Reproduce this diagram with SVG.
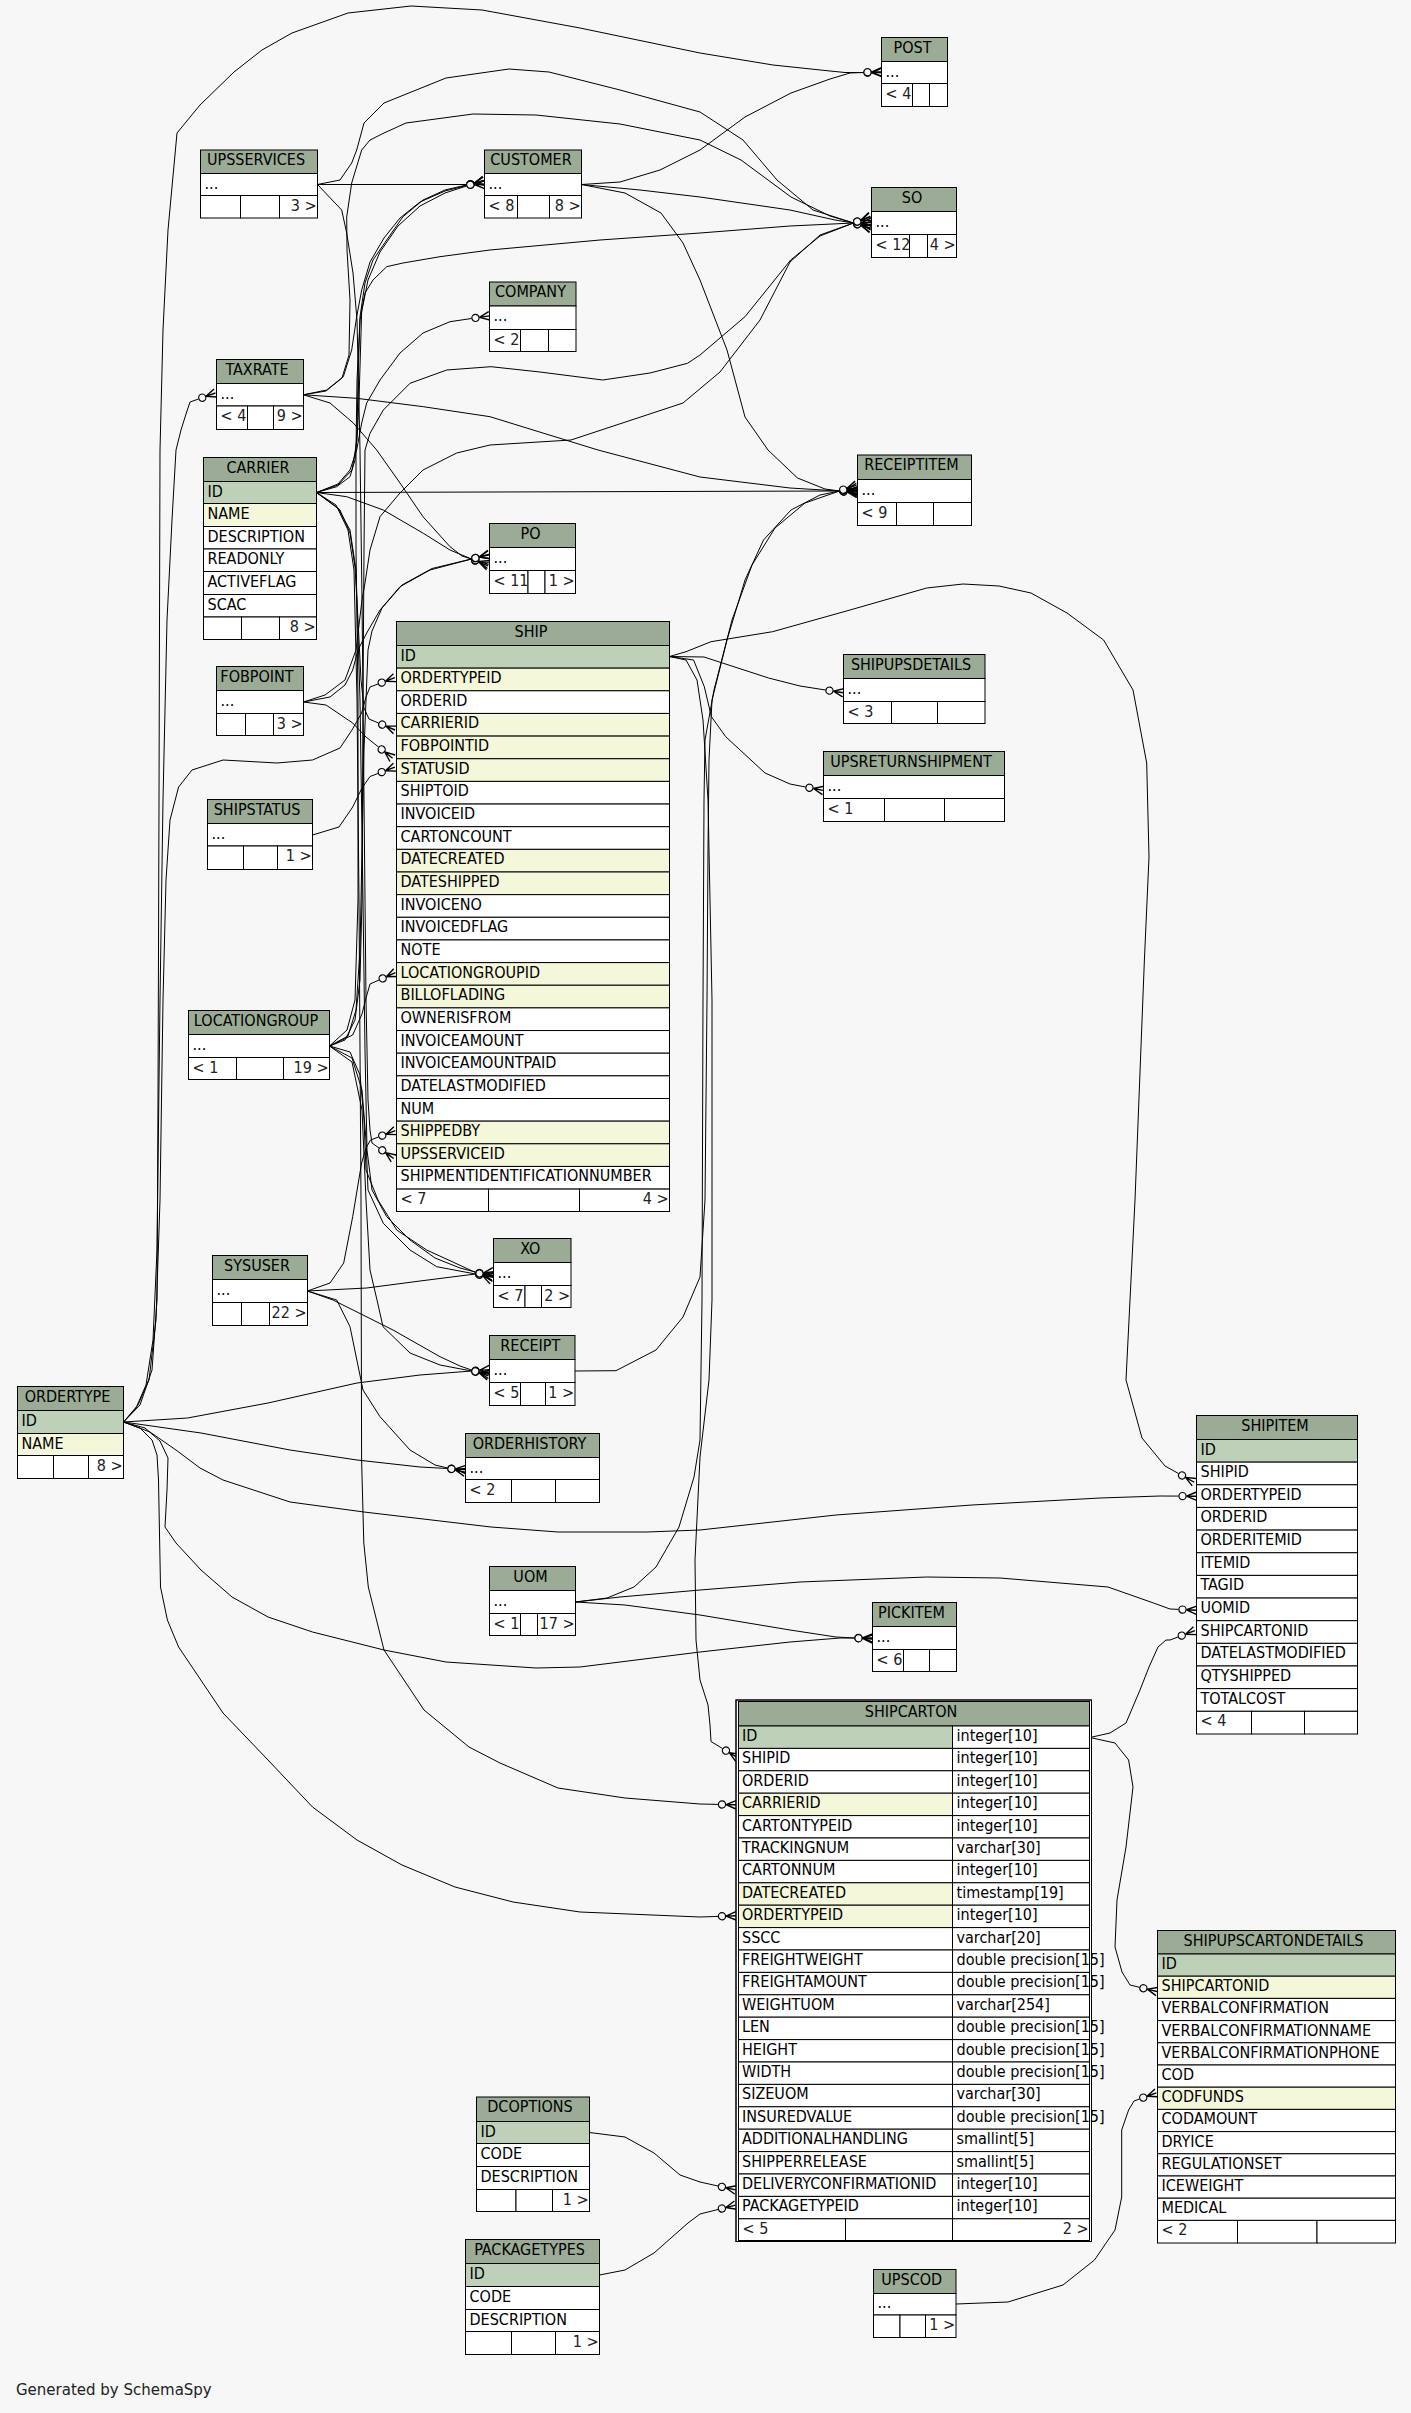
<svg xmlns="http://www.w3.org/2000/svg" width="1411" height="2413" viewBox="0 0 1411 2413">
<defs>
<style>
.bg{fill:#f7f7f7;stroke:none}
rect{stroke:#000;stroke-width:1}
.hd{fill:#9bab96}
.pk{fill:#bed1b8}
.fk{fill:#f4f7da}
.w{fill:#fff}
text{font-family:"DejaVu Sans Condensed","DejaVu Sans",sans-serif;font-size:16px;fill:#000}
.h{text-anchor:middle}
.r{text-anchor:end}
.f{fill:#222}
.e{fill:none;stroke:#000;stroke-width:1;stroke-linejoin:round;marker-end:url(#cf)}
.gen{font-family:"DejaVu Sans",sans-serif;font-size:15px;fill:#222}
</style>
<marker id="cf" markerUnits="userSpaceOnUse" markerWidth="20" markerHeight="12" refX="0" refY="6" orient="auto" overflow="visible">
<circle cx="4" cy="6" r="3.6" fill="#f7f7f7" stroke="#000" stroke-width="1.2"/>
<path d="M8,6 L18,1.8 M8,6 L18,6 M8,6 L18,10.2" stroke="#000" stroke-width="1.4" fill="none"/>
</marker>
</defs>
<rect class="bg" x="0" y="0" width="1411" height="2413"/>

<g id="edges">
<path class="e" d="M123.5,1422 L140,1405 L152,1370 L157,1300 L158,1100 L159,800 L160,450 L163,330 L168,230 L177,133 L200,105 L234,72 L262,50 L292,33 L348,13 L411,6 L482,10 L580,28 L700,53 L773,65 L830,71 L845,72.5 L863.5,72.5"/>
<path class="e" d="M123.5,1422 L136,1408 L146,1385 L153,1340 L157,1250 L160,1000 L163,800 L167,620 L172,520 L176,450 L181,430 L186,414 L190,402 L198.5,399"/>
<path class="e" d="M123.5,1422 L138,1405 L149,1380 L156,1320 L160,1200 L163,1000 L166,880 L170,820 L178.6,787 L192,770 L223,760 L277,763 L312.5,760 L340,748 L352,730 L361.6,713 L366,697 L370,687 L378,684"/>
<path class="e" d="M123.5,1422 L187.5,1418 L268,1403 L357,1383 L420,1375 L446,1373 L471.5,1371"/>
<path class="e" d="M123.5,1422 L201,1433 L290,1450 L357,1460 L420,1467 L447.5,1468.5"/>
<path class="e" d="M123.5,1422 L150,1432 L176,1450 L200,1468 L223,1480 L290,1502 L364,1512 L491,1527 L558,1532 L647,1532 L700,1530 L836,1515 L972,1505 L1100,1498 L1160,1496 L1178.5,1496.1"/>
<path class="e" d="M123.5,1422 L145,1428 L160,1441 L168,1458 L167,1490 L165,1527 L176,1543 L201,1570 L232,1597 L268,1617 L312.5,1632 L384,1650 L446,1662 L536,1668 L580,1667 L700,1652 L790,1642 L840,1638 L854.5,1638"/>
<path class="e" d="M123.5,1422 L140,1428 L152,1440 L157,1455 L158.5,1480 L160.5,1587 L167.4,1620 L178.6,1647 L223,1713 L268,1760 L312.5,1807 L357,1840 L402,1865 L455,1887 L513,1902 L580,1912 L700,1917 L718,1916.4"/>
<path class="e" d="M581.5,184.5 L620,182 L660,170 L700,150 L745,117 L791,93 L830,79 L850,73 L863.5,72.5"/>
<path class="e" d="M581.5,184.5 L640,190 L700,197 L790,210 L835,220 L853.5,223"/>
<path class="e" d="M581.5,184.5 L625,193 L661,213 L683,243 L700,280 L727,350 L745,417 L768,450 L797.5,478 L825,489 L839.5,491"/>
<path class="e" d="M317.5,184.5 L466.5,184.5"/>
<path class="e" d="M317.5,184.5 L340,180 L351.7,163 L356.7,150 L364,123 L384,103 L446,78 L509,69 L549,72 L620,90 L700,112 L743,140 L777,180 L813,210 L853.5,223"/>
<path class="e" d="M317.5,184.5 L341.7,210 L346.7,233 L353,273 L357,320 L360,450 L362,600 L364,800 L366,1000 L368,1100 L370,1130 L372,1143 L379,1148"/>
<path class="e" d="M316.5,492.5 L839.5,491"/>
<path class="e" d="M316.5,492.5 L346.7,496.7 L383.3,510 L423.3,533.3 L450,550 L471.5,559"/>
<path class="e" d="M316.5,492.5 L340,510 L350,533 L355,567 L358,620 L361,680 L364,708 L369,719 L378.5,723"/>
<path class="e" d="M316.5,492.5 L336.7,486.7 L350,476.7 L355,460 L357,433 L358,380 L360,316.7 L365,283 L373,260 L386.7,240 L403,216.7 L423,200 L445,190 L466.5,185"/>
<path class="e" d="M316.5,492.5 L338,485 L352,470 L357,440 L359,400 L361.7,310 L365,293 L373,280 L386.7,266.7 L403,263 L440,256.7 L490,250 L600,240 L700,233 L790,226 L853.5,223"/>
<path class="e" d="M316.5,492.5 L338,484 L350,470 L356.7,450 L361.7,423 L366.7,403 L380,380 L400,353 L423,333 L450,321.7 L471.5,318.5"/>
<path class="e" d="M316.5,492.5 L338,508 L350,530 L356,570 L360,700 L363,900 L365,1050 L367,1150 L372,1190 L386.7,1216.7 L410,1240 L435,1258 L460,1268 L475.5,1272"/>
<path class="e" d="M316.5,492.5 L336,505 L348,530 L354,570 L357,700 L359,900 L361,1200 L361.6,1460 L363.8,1543 L368.3,1587 L384,1650 L424,1710 L469,1747 L500,1763 L558,1788 L625,1798 L700,1804 L718,1804.4"/>
<path class="e" d="M303.5,394.8 L356.7,398.3 L423.3,406.7 L490,416.7 L598,450 L700,477 L790,488 L839.5,491"/>
<path class="e" d="M303.5,394.8 L330,403 L353.3,423 L376.7,450 L400,483 L423,516.7 L450,546.7 L462,556 L471.5,559"/>
<path class="e" d="M303.5,394.8 L326.7,390 L343.3,376.7 L351.7,350 L356.7,316.7 L361.7,290 L370,262 L384,238 L400,218 L420,202 L445,191 L466.5,185.5"/>
<path class="e" d="M303.5,394.8 L326,391 L342,378 L349,355 L350,300 L347,250 L346.7,217 L351.7,183 L361.7,150 L370,140 L384,133 L406,123 L473,114 L536,115 L620,124 L700,140 L741,160 L791,197 L830,216 L853.5,223"/>
<path class="e" d="M303.5,702 L326,705 L352.7,723 L366,737 L378.5,747"/>
<path class="e" d="M303.5,702 L330,697 L345,685 L352.7,670 L358,650 L366.7,633 L380,610 L400,586.7 L430,570 L471.5,559"/>
<path class="e" d="M303.5,702 L325,695 L345,680 L356,650 L362,600 L365,583 L370,550 L380,516.7 L400,493 L423,470 L456.7,453 L490,445 L571,440 L683,403 L720,372 L760,320 L790,262 L820,235 L853.5,223"/>
<path class="e" d="M329.5,1046 L345,1040 L355,1020 L360,980 L362,900 L363,700 L364,550 L365,450 L370,433.3 L383.3,410 L410,383.3 L446.7,370 L491,366.7 L540,372 L602.7,380 L650,373 L687.5,363.3 L700,355 L745,316.7 L790.7,260 L820,236 L853.5,223"/>
<path class="e" d="M329.5,1046 L352.7,1035 L362,1014 L366,998 L370,984 L379,980"/>
<path class="e" d="M329.5,1046 L348,1036 L356,1010 L360,950 L362,850 L364,750 L368,650 L372,631 L382,608 L402,585 L432,568.5 L471.5,559"/>
<path class="e" d="M329.5,1046 L350,1052 L360,1075 L364,1120 L366,1170 L378,1200 L396.7,1230 L426.7,1250 L455,1263 L475.5,1272.5"/>
<path class="e" d="M329.5,1046 L352,1058 L362,1090 L366,1140 L368,1190 L383.3,1223.3 L410,1250 L436.7,1266.7 L475.5,1274"/>
<path class="e" d="M329.5,1046 L352,1062 L362,1110 L366,1200 L370,1270 L377,1300 L383,1326.7 L410,1353 L440,1365 L471.5,1371"/>
<path class="e" d="M329.5,1046 L347,1030 L355,1000 L358,900 L358,700 L356,550 L356,450 L357,380 L360,320 L368,280 L380,252 L398,226 L420,206 L445,193 L466.5,186"/>
<path class="e" d="M307.5,1291 L330,1283 L343.7,1263 L352.7,1216.7 L361.6,1163 L366,1148 L370.5,1140 L378.5,1137"/>
<path class="e" d="M307.5,1291 L366.7,1288 L420,1281 L475.5,1274"/>
<path class="e" d="M307.5,1291 L333,1300 L393,1330 L440,1356.7 L460,1366 L471.5,1370"/>
<path class="e" d="M307.5,1291 L336.7,1300 L350,1326.7 L363,1390 L380,1416.7 L410,1450 L435,1465 L447.5,1468"/>
<path class="e" d="M312.5,835 L339,827 L352.7,807 L362,788 L370,776.5 L378,773.5"/>
<path class="e" d="M669.5,656.5 L704,657 L768.6,678 L800,686 L825.5,690"/>
<path class="e" d="M669.5,656.5 L693.6,660 L704.3,686.7 L711.4,716.7 L725.7,736.7 L765,773 L790,784 L805.5,787"/>
<path class="e" d="M669.5,656.5 L686,651.7 L711,641.7 L772.6,631.7 L850,610 L926.7,588 L963,584 L999,586 L1031,593 L1067,613 L1103.6,640 L1133,690 L1146.7,763 L1149,857 L1144.4,960 L1135,1200 L1126,1380 L1142,1438 L1165,1466 L1178.5,1473.5"/>
<path class="e" d="M669.5,656.5 L686,660 L697,680 L703,720 L708,800 L712,1000 L712,1300 L709,1380 L700,1457 L695,1560 L696,1640 L700,1680 L708,1705 L710,1725 L711,1741.5 L722.5,1748.5"/>
<path class="e" d="M575,1371 L616,1370.7 L656,1350 L683,1317 L700,1277 L705,1200 L707,1000 L708,850 L709,760 L712,700 L727,640 L745,580 L763.5,540 L791,510 L820,495 L839.5,491"/>
<path class="e" d="M575.5,1602 L607,1598 L634,1587 L656,1567 L679,1527 L694,1477 L700,1440 L702,1300 L703,1000 L704,800 L705,740 L714,690 L732,620 L752,565 L775,528 L805,503 L839.5,491"/>
<path class="e" d="M575.5,1602 L620,1597 L700,1590 L800,1582 L926.7,1577 L1000,1578 L1108,1587 L1153.5,1603 L1170,1609 L1178.5,1609.4"/>
<path class="e" d="M575.5,1602 L625,1605 L700,1615 L790,1630 L836,1637 L854.5,1638"/>
<path class="e" d="M1090,1737.5 L1110,1733 L1126,1723 L1140,1690 L1149,1667 L1158,1647 L1166,1640 L1170,1640 L1178,1637"/>
<path class="e" d="M1090,1737.5 L1115,1743 L1128.6,1760 L1133,1787 L1126,1847 L1117,1900 L1115,1947 L1122,1972 L1130,1985 L1139.5,1987.3"/>
<path class="e" d="M956,2304 L1008,2302 L1063,2285 L1094.5,2260 L1115,2230 L1121.7,2197 L1121.7,2130 L1128.6,2110 L1134,2101 L1139.5,2099"/>
<path class="e" d="M589.5,2132.5 L625,2137 L654,2153 L680,2175 L700,2182 L718,2186"/>
<path class="e" d="M599.5,2275 L625,2270 L654,2253 L688,2223 L700,2214 L718,2209.5"/>
</g>

<g id="UPSSERVICES">
<rect class="hd" x="200.5" y="150" width="117" height="23.5"/>
<rect class="w" x="200.5" y="173.5" width="117" height="22"/>
<rect class="w" x="200.5" y="195.5" width="40" height="22.5"/>
<rect class="w" x="240.5" y="195.5" width="39" height="22.5"/>
<rect class="w" x="279.5" y="195.5" width="38" height="22.5"/>
<text class="h" x="256" y="165">UPSSERVICES</text>
<text x="204.5" y="188.5">...</text>
<text class="r f" x="316.5" y="210.5">3 &gt;</text>
</g>

<g id="CUSTOMER">
<rect class="hd" x="484.5" y="150" width="97" height="23.5"/>
<rect class="w" x="484.5" y="173.5" width="97" height="22"/>
<rect class="w" x="484.5" y="195.5" width="33" height="22.5"/>
<rect class="w" x="517.5" y="195.5" width="32" height="22.5"/>
<rect class="w" x="549.5" y="195.5" width="32" height="22.5"/>
<text class="h" x="531" y="165">CUSTOMER</text>
<text x="488.5" y="188.5">...</text>
<text class="f" x="488.5" y="210.5">&lt; 8</text>
<text class="r f" x="580.5" y="210.5">8 &gt;</text>
</g>

<g id="POST">
<rect class="hd" x="881.5" y="37.5" width="66" height="24"/>
<rect class="w" x="881.5" y="61.5" width="66" height="22"/>
<rect class="w" x="881.5" y="83.5" width="31" height="23"/>
<rect class="w" x="912.5" y="83.5" width="17" height="23"/>
<rect class="w" x="929.5" y="83.5" width="18" height="23"/>
<text class="h" x="912.5" y="52.5">POST</text>
<text x="885.5" y="76.5">...</text>
<text class="f" x="885.5" y="98.5">&lt; 4</text>
</g>

<g id="SO">
<rect class="hd" x="871.5" y="187.5" width="85" height="24"/>
<rect class="w" x="871.5" y="211.5" width="85" height="23"/>
<rect class="w" x="871.5" y="234.5" width="38" height="23"/>
<rect class="w" x="909.5" y="234.5" width="18" height="23"/>
<rect class="w" x="927.5" y="234.5" width="29" height="23"/>
<text class="h" x="912" y="202.5">SO</text>
<text x="875.5" y="226.5">...</text>
<text class="f" x="875.5" y="249.5">&lt; 12</text>
<text class="r f" x="955.5" y="249.5">4 &gt;</text>
</g>

<g id="COMPANY">
<rect class="hd" x="489.5" y="282" width="86.5" height="24"/>
<rect class="w" x="489.5" y="306" width="86.5" height="23.5"/>
<rect class="w" x="489.5" y="329.5" width="31" height="22"/>
<rect class="w" x="520.5" y="329.5" width="28" height="22"/>
<rect class="w" x="548.5" y="329.5" width="27.5" height="22"/>
<text class="h" x="530.5" y="297">COMPANY</text>
<text x="493.5" y="321">...</text>
<text class="f" x="493.5" y="344.5">&lt; 2</text>
</g>

<g id="TAXRATE">
<rect class="hd" x="216.5" y="359.5" width="87" height="24"/>
<rect class="w" x="216.5" y="383.5" width="87" height="22.5"/>
<rect class="w" x="216.5" y="406" width="31" height="23.5"/>
<rect class="w" x="247.5" y="406" width="26" height="23.5"/>
<rect class="w" x="273.5" y="406" width="30" height="23.5"/>
<text class="h" x="257" y="374.5">TAXRATE</text>
<text x="220.5" y="398.5">...</text>
<text class="f" x="220.5" y="421">&lt; 4</text>
<text class="r f" x="302.5" y="421">9 &gt;</text>
</g>

<g id="CARRIER">
<rect class="hd" x="203.5" y="457.5" width="113" height="24"/>
<rect class="pk" x="203.5" y="481.5" width="113" height="22"/>
<rect class="fk" x="203.5" y="503.5" width="113" height="23"/>
<rect class="w" x="203.5" y="526.5" width="113" height="22.5"/>
<rect class="w" x="203.5" y="549" width="113" height="22.5"/>
<rect class="w" x="203.5" y="571.5" width="113" height="23"/>
<rect class="w" x="203.5" y="594.5" width="113" height="22.5"/>
<rect class="w" x="203.5" y="617" width="38" height="22.5"/>
<rect class="w" x="241.5" y="617" width="38" height="22.5"/>
<rect class="w" x="279.5" y="617" width="37" height="22.5"/>
<text class="h" x="258" y="472.5">CARRIER</text>
<text x="207.5" y="496.5">ID</text>
<text x="207.5" y="518.5">NAME</text>
<text x="207.5" y="541.5">DESCRIPTION</text>
<text x="207.5" y="564">READONLY</text>
<text x="207.5" y="586.5">ACTIVEFLAG</text>
<text x="207.5" y="609.5">SCAC</text>
<text class="r f" x="315.5" y="632">8 &gt;</text>
</g>

<g id="RECEIPTITEM">
<rect class="hd" x="857.5" y="455" width="114" height="24.5"/>
<rect class="w" x="857.5" y="479.5" width="114" height="23"/>
<rect class="w" x="857.5" y="502.5" width="39" height="23"/>
<rect class="w" x="896.5" y="502.5" width="37" height="23"/>
<rect class="w" x="933.5" y="502.5" width="38" height="23"/>
<text class="h" x="911.5" y="470">RECEIPTITEM</text>
<text x="861.5" y="494.5">...</text>
<text class="f" x="861.5" y="517.5">&lt; 9</text>
</g>

<g id="PO">
<rect class="hd" x="489.5" y="523.5" width="86" height="24"/>
<rect class="w" x="489.5" y="547.5" width="86" height="23"/>
<rect class="w" x="489.5" y="570.5" width="38.5" height="23"/>
<rect class="w" x="528" y="570.5" width="17" height="23"/>
<rect class="w" x="545" y="570.5" width="30.5" height="23"/>
<text class="h" x="530.5" y="538.5">PO</text>
<text x="493.5" y="562.5">...</text>
<text class="f" x="493.5" y="585.5">&lt; 11</text>
<text class="r f" x="574.5" y="585.5">1 &gt;</text>
</g>

<g id="SHIP">
<rect class="hd" x="396.5" y="621.5" width="273" height="24"/>
<rect class="pk" x="396.5" y="645.5" width="273" height="22.65"/>
<rect class="fk" x="396.5" y="668.15" width="273" height="22.65"/>
<rect class="w" x="396.5" y="690.8" width="273" height="22.65"/>
<rect class="fk" x="396.5" y="713.45" width="273" height="22.65"/>
<rect class="fk" x="396.5" y="736.1" width="273" height="22.65"/>
<rect class="fk" x="396.5" y="758.75" width="273" height="22.65"/>
<rect class="w" x="396.5" y="781.4" width="273" height="22.65"/>
<rect class="w" x="396.5" y="804.05" width="273" height="22.65"/>
<rect class="w" x="396.5" y="826.7" width="273" height="22.65"/>
<rect class="fk" x="396.5" y="849.35" width="273" height="22.65"/>
<rect class="fk" x="396.5" y="872" width="273" height="22.65"/>
<rect class="w" x="396.5" y="894.65" width="273" height="22.65"/>
<rect class="w" x="396.5" y="917.3" width="273" height="22.65"/>
<rect class="w" x="396.5" y="939.95" width="273" height="22.65"/>
<rect class="fk" x="396.5" y="962.6" width="273" height="22.65"/>
<rect class="fk" x="396.5" y="985.25" width="273" height="22.65"/>
<rect class="w" x="396.5" y="1007.9" width="273" height="22.65"/>
<rect class="w" x="396.5" y="1030.55" width="273" height="22.65"/>
<rect class="w" x="396.5" y="1053.2" width="273" height="22.65"/>
<rect class="w" x="396.5" y="1075.85" width="273" height="22.65"/>
<rect class="w" x="396.5" y="1098.5" width="273" height="22.65"/>
<rect class="fk" x="396.5" y="1121.15" width="273" height="22.65"/>
<rect class="fk" x="396.5" y="1143.8" width="273" height="22.65"/>
<rect class="w" x="396.5" y="1166.45" width="273" height="22.65"/>
<rect class="w" x="396.5" y="1189.1" width="92" height="22.4"/>
<rect class="w" x="488.5" y="1189.1" width="91" height="22.4"/>
<rect class="w" x="579.5" y="1189.1" width="90" height="22.4"/>
<text class="h" x="531" y="636.5">SHIP</text>
<text x="400.5" y="660.5">ID</text>
<text x="400.5" y="683.15">ORDERTYPEID</text>
<text x="400.5" y="705.8">ORDERID</text>
<text x="400.5" y="728.45">CARRIERID</text>
<text x="400.5" y="751.1">FOBPOINTID</text>
<text x="400.5" y="773.75">STATUSID</text>
<text x="400.5" y="796.4">SHIPTOID</text>
<text x="400.5" y="819.05">INVOICEID</text>
<text x="400.5" y="841.7">CARTONCOUNT</text>
<text x="400.5" y="864.35">DATECREATED</text>
<text x="400.5" y="887">DATESHIPPED</text>
<text x="400.5" y="909.65">INVOICENO</text>
<text x="400.5" y="932.3">INVOICEDFLAG</text>
<text x="400.5" y="954.95">NOTE</text>
<text x="400.5" y="977.6">LOCATIONGROUPID</text>
<text x="400.5" y="1000.25">BILLOFLADING</text>
<text x="400.5" y="1022.9">OWNERISFROM</text>
<text x="400.5" y="1045.55">INVOICEAMOUNT</text>
<text x="400.5" y="1068.2">INVOICEAMOUNTPAID</text>
<text x="400.5" y="1090.85">DATELASTMODIFIED</text>
<text x="400.5" y="1113.5">NUM</text>
<text x="400.5" y="1136.15">SHIPPEDBY</text>
<text x="400.5" y="1158.8">UPSSERVICEID</text>
<text x="400.5" y="1181.45">SHIPMENTIDENTIFICATIONNUMBER</text>
<text class="f" x="400.5" y="1204.1">&lt; 7</text>
<text class="r f" x="668.5" y="1204.1">4 &gt;</text>
</g>

<g id="SHIPUPSDETAILS">
<rect class="hd" x="843.5" y="654.5" width="141.5" height="24"/>
<rect class="w" x="843.5" y="678.5" width="141.5" height="23"/>
<rect class="w" x="843.5" y="701.5" width="48" height="22"/>
<rect class="w" x="891.5" y="701.5" width="46" height="22"/>
<rect class="w" x="937.5" y="701.5" width="47.5" height="22"/>
<text class="h" x="911" y="669.5">SHIPUPSDETAILS</text>
<text x="847.5" y="693.5">...</text>
<text class="f" x="847.5" y="716.5">&lt; 3</text>
</g>

<g id="FOBPOINT">
<rect class="hd" x="216.5" y="666.5" width="87" height="24"/>
<rect class="w" x="216.5" y="690.5" width="87" height="23"/>
<rect class="w" x="216.5" y="713.5" width="29" height="22"/>
<rect class="w" x="245.5" y="713.5" width="28" height="22"/>
<rect class="w" x="273.5" y="713.5" width="30" height="22"/>
<text class="h" x="257" y="681.5">FOBPOINT</text>
<text x="220.5" y="705.5">...</text>
<text class="r f" x="302.5" y="728.5">3 &gt;</text>
</g>

<g id="UPSRETURNSHIPMENT">
<rect class="hd" x="823.5" y="751.5" width="181" height="24"/>
<rect class="w" x="823.5" y="775.5" width="181" height="23"/>
<rect class="w" x="823.5" y="798.5" width="61" height="23"/>
<rect class="w" x="884.5" y="798.5" width="60" height="23"/>
<rect class="w" x="944.5" y="798.5" width="60" height="23"/>
<text class="h" x="911" y="766.5">UPSRETURNSHIPMENT</text>
<text x="827.5" y="790.5">...</text>
<text class="f" x="827.5" y="813.5">&lt; 1</text>
</g>

<g id="SHIPSTATUS">
<rect class="hd" x="207.5" y="799.5" width="105" height="24"/>
<rect class="w" x="207.5" y="823.5" width="105" height="22.5"/>
<rect class="w" x="207.5" y="846" width="36" height="23.5"/>
<rect class="w" x="243.5" y="846" width="34" height="23.5"/>
<rect class="w" x="277.5" y="846" width="35" height="23.5"/>
<text class="h" x="257" y="814.5">SHIPSTATUS</text>
<text x="211.5" y="838.5">...</text>
<text class="r f" x="311.5" y="861">1 &gt;</text>
</g>

<g id="LOCATIONGROUP">
<rect class="hd" x="188.5" y="1010.5" width="141" height="24"/>
<rect class="w" x="188.5" y="1034.5" width="141" height="23"/>
<rect class="w" x="188.5" y="1057.5" width="48" height="22"/>
<rect class="w" x="236.5" y="1057.5" width="47" height="22"/>
<rect class="w" x="283.5" y="1057.5" width="46" height="22"/>
<text class="h" x="256" y="1025.5">LOCATIONGROUP</text>
<text x="192.5" y="1049.5">...</text>
<text class="f" x="192.5" y="1072.5">&lt; 1</text>
<text class="r f" x="328.5" y="1072.5">19 &gt;</text>
</g>

<g id="XO">
<rect class="hd" x="493.5" y="1238.5" width="77.5" height="24"/>
<rect class="w" x="493.5" y="1262.5" width="77.5" height="23"/>
<rect class="w" x="493.5" y="1285.5" width="31.5" height="22"/>
<rect class="w" x="525" y="1285.5" width="16.5" height="22"/>
<rect class="w" x="541.5" y="1285.5" width="29.5" height="22"/>
<text class="h" x="530.3" y="1253.5">XO</text>
<text x="497.5" y="1277.5">...</text>
<text class="f" x="497.5" y="1300.5">&lt; 7</text>
<text class="r f" x="570" y="1300.5">2 &gt;</text>
</g>

<g id="SYSUSER">
<rect class="hd" x="212.5" y="1255.5" width="95" height="24"/>
<rect class="w" x="212.5" y="1279.5" width="95" height="23"/>
<rect class="w" x="212.5" y="1302.5" width="29" height="23"/>
<rect class="w" x="241.5" y="1302.5" width="28" height="23"/>
<rect class="w" x="269.5" y="1302.5" width="38" height="23"/>
<text class="h" x="257" y="1270.5">SYSUSER</text>
<text x="216.5" y="1294.5">...</text>
<text class="r f" x="306.5" y="1317.5">22 &gt;</text>
</g>

<g id="RECEIPT">
<rect class="hd" x="489.5" y="1335.5" width="85.5" height="24"/>
<rect class="w" x="489.5" y="1359.5" width="85.5" height="23"/>
<rect class="w" x="489.5" y="1382.5" width="31" height="23"/>
<rect class="w" x="520.5" y="1382.5" width="25" height="23"/>
<rect class="w" x="545.5" y="1382.5" width="29.5" height="23"/>
<text class="h" x="530.3" y="1350.5">RECEIPT</text>
<text x="493.5" y="1374.5">...</text>
<text class="f" x="493.5" y="1397.5">&lt; 5</text>
<text class="r f" x="574" y="1397.5">1 &gt;</text>
</g>

<g id="ORDERTYPE">
<rect class="hd" x="17.5" y="1386.5" width="106" height="24"/>
<rect class="pk" x="17.5" y="1410.5" width="106" height="23"/>
<rect class="fk" x="17.5" y="1433.5" width="106" height="22"/>
<rect class="w" x="17.5" y="1455.5" width="36" height="23"/>
<rect class="w" x="53.5" y="1455.5" width="35" height="23"/>
<rect class="w" x="88.5" y="1455.5" width="35" height="23"/>
<text class="h" x="67.5" y="1401.5">ORDERTYPE</text>
<text x="21.5" y="1425.5">ID</text>
<text x="21.5" y="1448.5">NAME</text>
<text class="r f" x="122.5" y="1470.5">8 &gt;</text>
</g>

<g id="ORDERHISTORY">
<rect class="hd" x="465.5" y="1433.5" width="134" height="24"/>
<rect class="w" x="465.5" y="1457.5" width="134" height="22"/>
<rect class="w" x="465.5" y="1479.5" width="46" height="23"/>
<rect class="w" x="511.5" y="1479.5" width="44" height="23"/>
<rect class="w" x="555.5" y="1479.5" width="44" height="23"/>
<text class="h" x="529.5" y="1448.5">ORDERHISTORY</text>
<text x="469.5" y="1472.5">...</text>
<text class="f" x="469.5" y="1494.5">&lt; 2</text>
</g>

<g id="UOM">
<rect class="hd" x="489.5" y="1566.5" width="86" height="24"/>
<rect class="w" x="489.5" y="1590.5" width="86" height="23"/>
<rect class="w" x="489.5" y="1613.5" width="31" height="22"/>
<rect class="w" x="520.5" y="1613.5" width="17" height="22"/>
<rect class="w" x="537.5" y="1613.5" width="38" height="22"/>
<text class="h" x="530.5" y="1581.5">UOM</text>
<text x="493.5" y="1605.5">...</text>
<text class="f" x="493.5" y="1628.5">&lt; 1</text>
<text class="r f" x="574.5" y="1628.5">17 &gt;</text>
</g>

<g id="PICKITEM">
<rect class="hd" x="872.5" y="1602.5" width="84" height="24"/>
<rect class="w" x="872.5" y="1626.5" width="84" height="23"/>
<rect class="w" x="872.5" y="1649.5" width="31" height="22"/>
<rect class="w" x="903.5" y="1649.5" width="26" height="22"/>
<rect class="w" x="929.5" y="1649.5" width="27" height="22"/>
<text class="h" x="911.5" y="1617.5">PICKITEM</text>
<text x="876.5" y="1641.5">...</text>
<text class="f" x="876.5" y="1664.5">&lt; 6</text>
</g>

<g id="SHIPITEM">
<rect class="hd" x="1196.5" y="1415.5" width="161" height="24"/>
<rect class="pk" x="1196.5" y="1439.5" width="161" height="22.65"/>
<rect class="w" x="1196.5" y="1462.15" width="161" height="22.65"/>
<rect class="w" x="1196.5" y="1484.8" width="161" height="22.65"/>
<rect class="w" x="1196.5" y="1507.45" width="161" height="22.65"/>
<rect class="w" x="1196.5" y="1530.1" width="161" height="22.65"/>
<rect class="w" x="1196.5" y="1552.75" width="161" height="22.65"/>
<rect class="w" x="1196.5" y="1575.4" width="161" height="22.65"/>
<rect class="w" x="1196.5" y="1598.05" width="161" height="22.65"/>
<rect class="w" x="1196.5" y="1620.7" width="161" height="22.65"/>
<rect class="w" x="1196.5" y="1643.35" width="161" height="22.65"/>
<rect class="w" x="1196.5" y="1666" width="161" height="22.65"/>
<rect class="w" x="1196.5" y="1688.65" width="161" height="22.65"/>
<rect class="w" x="1196.5" y="1711.3" width="55" height="22.7"/>
<rect class="w" x="1251.5" y="1711.3" width="53" height="22.7"/>
<rect class="w" x="1304.5" y="1711.3" width="53" height="22.7"/>
<text class="h" x="1275" y="1430.5">SHIPITEM</text>
<text x="1200.5" y="1454.5">ID</text>
<text x="1200.5" y="1477.15">SHIPID</text>
<text x="1200.5" y="1499.8">ORDERTYPEID</text>
<text x="1200.5" y="1522.45">ORDERID</text>
<text x="1200.5" y="1545.1">ORDERITEMID</text>
<text x="1200.5" y="1567.75">ITEMID</text>
<text x="1200.5" y="1590.4">TAGID</text>
<text x="1200.5" y="1613.05">UOMID</text>
<text x="1200.5" y="1635.7">SHIPCARTONID</text>
<text x="1200.5" y="1658.35">DATELASTMODIFIED</text>
<text x="1200.5" y="1681">QTYSHIPPED</text>
<text x="1200.5" y="1703.65">TOTALCOST</text>
<text class="f" x="1200.5" y="1726.3">&lt; 4</text>
</g>

<g id="SHIPCARTON">
<rect class="w" x="736" y="1700" width="355.5" height="541.5" stroke-width="2"/>
<rect class="hd" x="738.5" y="1701.5" width="351" height="24.5"/>
<rect class="pk" x="738.5" y="1726" width="214" height="22.4"/>
<rect class="w" x="952.5" y="1726" width="137" height="22.4"/>
<rect class="w" x="738.5" y="1748.4" width="214" height="22.4"/>
<rect class="w" x="952.5" y="1748.4" width="137" height="22.4"/>
<rect class="w" x="738.5" y="1770.8" width="214" height="22.4"/>
<rect class="w" x="952.5" y="1770.8" width="137" height="22.4"/>
<rect class="fk" x="738.5" y="1793.2" width="214" height="22.4"/>
<rect class="w" x="952.5" y="1793.2" width="137" height="22.4"/>
<rect class="w" x="738.5" y="1815.6" width="214" height="22.4"/>
<rect class="w" x="952.5" y="1815.6" width="137" height="22.4"/>
<rect class="w" x="738.5" y="1838" width="214" height="22.4"/>
<rect class="w" x="952.5" y="1838" width="137" height="22.4"/>
<rect class="w" x="738.5" y="1860.4" width="214" height="22.4"/>
<rect class="w" x="952.5" y="1860.4" width="137" height="22.4"/>
<rect class="fk" x="738.5" y="1882.8" width="214" height="22.4"/>
<rect class="w" x="952.5" y="1882.8" width="137" height="22.4"/>
<rect class="fk" x="738.5" y="1905.2" width="214" height="22.4"/>
<rect class="w" x="952.5" y="1905.2" width="137" height="22.4"/>
<rect class="w" x="738.5" y="1927.6" width="214" height="22.4"/>
<rect class="w" x="952.5" y="1927.6" width="137" height="22.4"/>
<rect class="w" x="738.5" y="1950" width="214" height="22.4"/>
<rect class="w" x="952.5" y="1950" width="137" height="22.4"/>
<rect class="w" x="738.5" y="1972.4" width="214" height="22.4"/>
<rect class="w" x="952.5" y="1972.4" width="137" height="22.4"/>
<rect class="w" x="738.5" y="1994.8" width="214" height="22.4"/>
<rect class="w" x="952.5" y="1994.8" width="137" height="22.4"/>
<rect class="w" x="738.5" y="2017.2" width="214" height="22.4"/>
<rect class="w" x="952.5" y="2017.2" width="137" height="22.4"/>
<rect class="w" x="738.5" y="2039.6" width="214" height="22.4"/>
<rect class="w" x="952.5" y="2039.6" width="137" height="22.4"/>
<rect class="w" x="738.5" y="2062" width="214" height="22.4"/>
<rect class="w" x="952.5" y="2062" width="137" height="22.4"/>
<rect class="w" x="738.5" y="2084.4" width="214" height="22.4"/>
<rect class="w" x="952.5" y="2084.4" width="137" height="22.4"/>
<rect class="w" x="738.5" y="2106.8" width="214" height="22.4"/>
<rect class="w" x="952.5" y="2106.8" width="137" height="22.4"/>
<rect class="w" x="738.5" y="2129.2" width="214" height="22.4"/>
<rect class="w" x="952.5" y="2129.2" width="137" height="22.4"/>
<rect class="w" x="738.5" y="2151.6" width="214" height="22.4"/>
<rect class="w" x="952.5" y="2151.6" width="137" height="22.4"/>
<rect class="w" x="738.5" y="2174" width="214" height="22.4"/>
<rect class="w" x="952.5" y="2174" width="137" height="22.4"/>
<rect class="w" x="738.5" y="2196.4" width="214" height="22.4"/>
<rect class="w" x="952.5" y="2196.4" width="137" height="22.4"/>
<rect class="w" x="738.5" y="2218.8" width="107" height="21.7"/>
<rect class="w" x="845.5" y="2218.8" width="107" height="21.7"/>
<rect class="w" x="952.5" y="2218.8" width="137" height="21.7"/>
<text class="h" x="911" y="1716.5">SHIPCARTON</text>
<text x="742" y="1741">ID</text><text x="956.5" y="1741">integer[10]</text>
<text x="742" y="1763.4">SHIPID</text><text x="956.5" y="1763.4">integer[10]</text>
<text x="742" y="1785.8">ORDERID</text><text x="956.5" y="1785.8">integer[10]</text>
<text x="742" y="1808.2">CARRIERID</text><text x="956.5" y="1808.2">integer[10]</text>
<text x="742" y="1830.6">CARTONTYPEID</text><text x="956.5" y="1830.6">integer[10]</text>
<text x="742" y="1853">TRACKINGNUM</text><text x="956.5" y="1853">varchar[30]</text>
<text x="742" y="1875.4">CARTONNUM</text><text x="956.5" y="1875.4">integer[10]</text>
<text x="742" y="1897.8">DATECREATED</text><text x="956.5" y="1897.8">timestamp[19]</text>
<text x="742" y="1920.2">ORDERTYPEID</text><text x="956.5" y="1920.2">integer[10]</text>
<text x="742" y="1942.6">SSCC</text><text x="956.5" y="1942.6">varchar[20]</text>
<text x="742" y="1965">FREIGHTWEIGHT</text><text x="956.5" y="1965">double precision[15]</text>
<text x="742" y="1987.4">FREIGHTAMOUNT</text><text x="956.5" y="1987.4">double precision[15]</text>
<text x="742" y="2009.8">WEIGHTUOM</text><text x="956.5" y="2009.8">varchar[254]</text>
<text x="742" y="2032.2">LEN</text><text x="956.5" y="2032.2">double precision[15]</text>
<text x="742" y="2054.6">HEIGHT</text><text x="956.5" y="2054.6">double precision[15]</text>
<text x="742" y="2077">WIDTH</text><text x="956.5" y="2077">double precision[15]</text>
<text x="742" y="2099.4">SIZEUOM</text><text x="956.5" y="2099.4">varchar[30]</text>
<text x="742" y="2121.8">INSUREDVALUE</text><text x="956.5" y="2121.8">double precision[15]</text>
<text x="742" y="2144.2">ADDITIONALHANDLING</text><text x="956.5" y="2144.2">smallint[5]</text>
<text x="742" y="2166.6">SHIPPERRELEASE</text><text x="956.5" y="2166.6">smallint[5]</text>
<text x="742" y="2189">DELIVERYCONFIRMATIONID</text><text x="956.5" y="2189">integer[10]</text>
<text x="742" y="2211.4">PACKAGETYPEID</text><text x="956.5" y="2211.4">integer[10]</text>
<text class="f" x="742.5" y="2233.8">&lt; 5</text>
<text class="r f" x="1088.5" y="2233.8">2 &gt;</text>
<rect x="736" y="1700" width="355.5" height="541.5" fill="none" stroke-width="2"/>
<path d="M1089.5,1726 V2218.8" stroke="#000" stroke-width="1"/>
</g>

<g id="SHIPUPSCARTONDETAILS">
<rect class="hd" x="1157.5" y="1930.5" width="238" height="23.5"/>
<rect class="pk" x="1157.5" y="1954" width="238" height="22.2"/>
<rect class="fk" x="1157.5" y="1976.2" width="238" height="22.2"/>
<rect class="w" x="1157.5" y="1998.4" width="238" height="22.2"/>
<rect class="w" x="1157.5" y="2020.6" width="238" height="22.2"/>
<rect class="w" x="1157.5" y="2042.8" width="238" height="22.2"/>
<rect class="w" x="1157.5" y="2065" width="238" height="22.2"/>
<rect class="fk" x="1157.5" y="2087.2" width="238" height="22.2"/>
<rect class="w" x="1157.5" y="2109.4" width="238" height="22.2"/>
<rect class="w" x="1157.5" y="2131.6" width="238" height="22.2"/>
<rect class="w" x="1157.5" y="2153.8" width="238" height="22.2"/>
<rect class="w" x="1157.5" y="2176" width="238" height="22.2"/>
<rect class="w" x="1157.5" y="2198.2" width="238" height="22.2"/>
<rect class="w" x="1157.5" y="2220.4" width="80" height="22.6"/>
<rect class="w" x="1237.5" y="2220.4" width="79.5" height="22.6"/>
<rect class="w" x="1317" y="2220.4" width="78.5" height="22.6"/>
<text class="h" x="1273.5" y="1945.5">SHIPUPSCARTONDETAILS</text>
<text x="1161.5" y="1969">ID</text>
<text x="1161.5" y="1991.2">SHIPCARTONID</text>
<text x="1161.5" y="2013.4">VERBALCONFIRMATION</text>
<text x="1161.5" y="2035.6">VERBALCONFIRMATIONNAME</text>
<text x="1161.5" y="2057.8">VERBALCONFIRMATIONPHONE</text>
<text x="1161.5" y="2080">COD</text>
<text x="1161.5" y="2102.2">CODFUNDS</text>
<text x="1161.5" y="2124.4">CODAMOUNT</text>
<text x="1161.5" y="2146.6">DRYICE</text>
<text x="1161.5" y="2168.8">REGULATIONSET</text>
<text x="1161.5" y="2191">ICEWEIGHT</text>
<text x="1161.5" y="2213.2">MEDICAL</text>
<text class="f" x="1161.5" y="2235.4">&lt; 2</text>
</g>

<g id="UPSCOD">
<rect class="hd" x="873.5" y="2269.5" width="82.5" height="24"/>
<rect class="w" x="873.5" y="2293.5" width="82.5" height="21.5"/>
<rect class="w" x="873.5" y="2315" width="26.5" height="22.5"/>
<rect class="w" x="900" y="2315" width="25.5" height="22.5"/>
<rect class="w" x="925.5" y="2315" width="30.5" height="22.5"/>
<text class="h" x="911.7" y="2284.5">UPSCOD</text>
<text x="877.5" y="2307.5">...</text>
<text class="r f" x="955" y="2330">1 &gt;</text>
</g>

<g id="DCOPTIONS">
<rect class="hd" x="476.5" y="2097" width="113" height="24.5"/>
<rect class="pk" x="476.5" y="2121.5" width="113" height="22"/>
<rect class="w" x="476.5" y="2143.5" width="113" height="23"/>
<rect class="w" x="476.5" y="2166.5" width="113" height="23"/>
<rect class="w" x="476.5" y="2189.5" width="39.5" height="22"/>
<rect class="w" x="516" y="2189.5" width="36.5" height="22"/>
<rect class="w" x="552.5" y="2189.5" width="37" height="22"/>
<text class="h" x="530" y="2112">DCOPTIONS</text>
<text x="480.5" y="2136.5">ID</text>
<text x="480.5" y="2158.5">CODE</text>
<text x="480.5" y="2181.5">DESCRIPTION</text>
<text class="r f" x="588.5" y="2204.5">1 &gt;</text>
</g>

<g id="PACKAGETYPES">
<rect class="hd" x="465.5" y="2239.5" width="134" height="24"/>
<rect class="pk" x="465.5" y="2263.5" width="134" height="23"/>
<rect class="w" x="465.5" y="2286.5" width="134" height="23"/>
<rect class="w" x="465.5" y="2309.5" width="134" height="22"/>
<rect class="w" x="465.5" y="2331.5" width="46" height="23"/>
<rect class="w" x="511.5" y="2331.5" width="44" height="23"/>
<rect class="w" x="555.5" y="2331.5" width="44" height="23"/>
<text class="h" x="529.5" y="2254.5">PACKAGETYPES</text>
<text x="469.5" y="2278.5">ID</text>
<text x="469.5" y="2301.5">CODE</text>
<text x="469.5" y="2324.5">DESCRIPTION</text>
<text class="r f" x="598.5" y="2346.5">1 &gt;</text>
</g>

<text class="gen" x="16" y="2395">Generated by SchemaSpy</text>
</svg>
